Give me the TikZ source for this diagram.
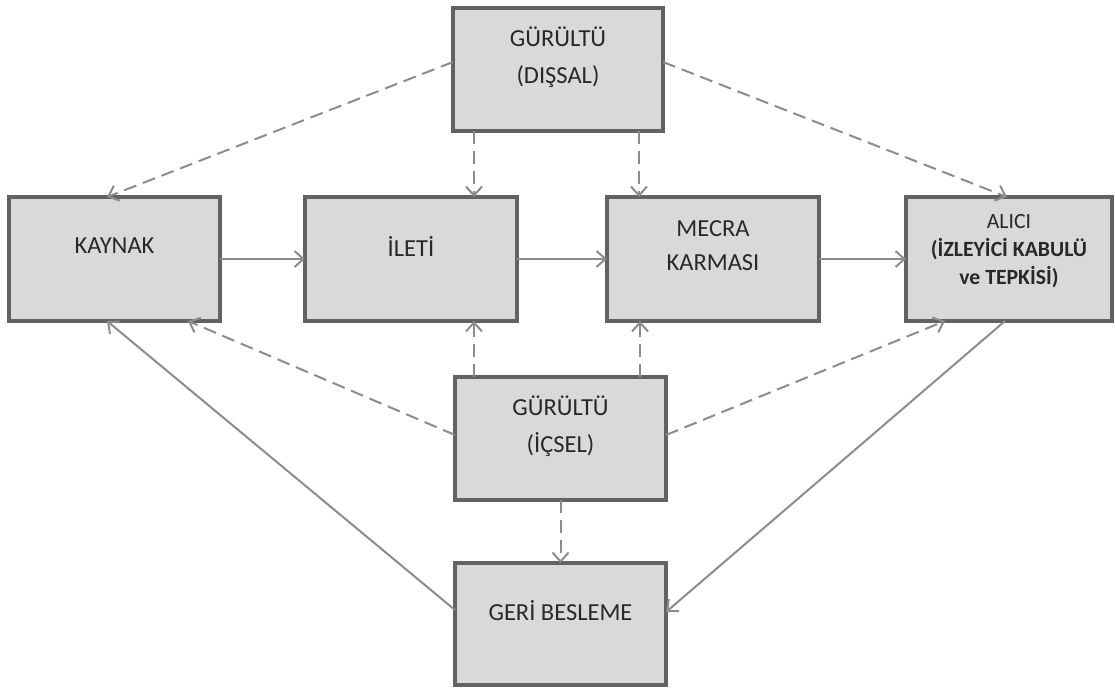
\documentclass[tikz,border=0pt]{standalone}
\usepackage{fontspec}
\setmainfont{Carlito}
\usetikzlibrary{arrows.meta,calc}
\definecolor{boxfill}{RGB}{217,217,217}
\definecolor{boxline}{RGB}{98,98,98}
\definecolor{conn}{RGB}{140,140,140}
\definecolor{txt}{RGB}{40,40,40}
\tikzset{
  blk/.style={draw=boxline, fill=boxfill, line width=3.5pt, inner sep=0pt, outer sep=0pt},
  lbl/.style={text=txt, align=center, inner sep=0pt, font=\fontsize{24.5}{37}\selectfont},
  con/.style={draw=conn, line width=2pt, -{Straight Barb[length=9pt,width=16pt]}},
  dsh/.style={con, dash pattern=on 13pt off 7pt}
}
\begin{document}
\begin{tikzpicture}[x=1pt,y=-1pt]
\useasboundingbox (0,0) rectangle (1115,688);
% boxes
\node[blk, minimum width=210pt, minimum height=123pt] (dis) at (558,69.5) {};
\node[blk, minimum width=211pt, minimum height=124pt] (kay) at (114.5,259) {};
\node[blk, minimum width=212pt, minimum height=124pt] (ile) at (411,259) {};
\node[blk, minimum width=212pt, minimum height=124pt] (mec) at (713,259) {};
\node[blk, minimum width=206pt, minimum height=124pt] (ali) at (1009,259) {};
\node[blk, minimum width=211pt, minimum height=123pt] (ic) at (560.5,438.5) {};
\node[blk, minimum width=211pt, minimum height=122pt] (geri) at (560.5,624) {};
% labels
\node[lbl] (disT) at ([yshift=12pt]dis.center) {GÜRÜLTÜ\\(DIŞSAL)};
\node[lbl] (kayT) at ([yshift=13pt]kay.center) {KAYNAK};
\node[lbl] (ileT) at ([yshift=12pt]ile.center) {İLETİ};
\node[lbl, font=\fontsize{24.5}{34}\selectfont] (mecT) at ([yshift=13pt]mec.center) {MECRA\\KARMASI};
\node[lbl, font=\fontsize{21.7}{28}\selectfont] (aliT) at ([yshift=8pt]ali.center) {ALICI\\\textbf{(İZLEYİCİ KABULÜ}\\\textbf{ve TEPKİSİ)}};
\node[lbl] (icT) at ([yshift=12pt]ic.center) {GÜRÜLTÜ\\(İÇSEL)};
\node[lbl] (geriT) at ([yshift=13pt]geri.center) {GERİ BESLEME};
% solid main flow
\draw[con] (kay.east) -- (ile.west);
\draw[con] (ile.east) -- (mec.west);
\draw[con] (mec.east) -- (ali.west);
% external noise
\draw[dsh] ([yshift=7.5pt]dis.west) -- ([xshift=-7.5pt]kay.north);
\draw[dsh] ([xshift=63pt]ile.north |- dis.south) -- ([xshift=63pt]ile.north);
\draw[dsh] ([xshift=-74pt]mec.north |- dis.south) -- ([xshift=-74pt]mec.north);
\draw[dsh] ([yshift=7.5pt]dis.east) -- ([xshift=-2pt]ali.north);
% internal noise
\draw[dsh] ([yshift=3.5pt]ic.west) -- ([xshift=73.5pt]kay.south);
\draw[dsh] ([xshift=63pt]ile.south |- ic.north) -- ([xshift=63pt]ile.south);
\draw[dsh] ([xshift=-73pt]mec.south |- ic.north) -- ([xshift=-73pt]mec.south);
\draw[dsh] ([yshift=3.5pt]ic.east) -- ([xshift=-64pt]ali.south);
\draw[dsh] (ic.south) -- (geri.north);
% feedback
\draw[con] ([xshift=-4pt]ali.south) -- ([yshift=12pt]geri.east);
\draw[con] ([yshift=14pt]geri.west) -- ([xshift=-7.5pt]kay.south);
\end{tikzpicture}
\end{document}
